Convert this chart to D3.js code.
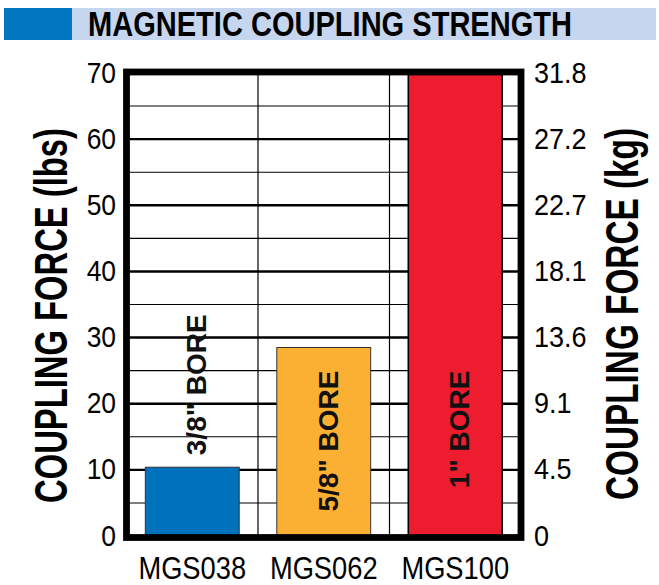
<!DOCTYPE html>
<html><head><meta charset="utf-8">
<script src="https://cdn.jsdelivr.net/npm/d3@7"></script>
<style>body{margin:0;background:#fff} svg{display:block}</style>
</head><body>
<svg id="c" width="659" height="585"></svg>
<script>
const categories = ["MGS038", "MGS062", "MGS100"];
const forceLbs = [10.4, 28.5, 70];
const boreLabels = ['3/8" BORE', '5/8" BORE', '1" BORE'];
const lbsTicks = [0, 10, 20, 30, 40, 50, 60, 70];
const minorTicks = [5, 15, 25, 35, 45, 55, 65];
const kgTickLabels = ["0", "4.5", "9.1", "13.6", "18.1", "22.7", "27.2", "31.8"];
const barColors = ["#0071bc", "#fbb034", "#ed1c2e"];

(function () {
const FONT = "'Liberation Sans', Arial, Helvetica, sans-serif";
const svg = d3.select("#c");

function condense(sel, f) {
  sel.each(function () {
    const w = this.getComputedTextLength();
    d3.select(this).attr("textLength", w * f).attr("lengthAdjust", "spacingAndGlyphs");
  });
}

// Title band
svg.append("rect").attr("x", 4).attr("y", 8).attr("width", 68).attr("height", 32).attr("fill", "#0077c0");
svg.append("rect").attr("x", 72).attr("y", 8).attr("width", 584).attr("height", 32).attr("fill", "#c6d6ee");
svg.append("text").attr("x", 88).attr("y", 36)
  .attr("font-family", FONT).attr("font-weight", "bold").attr("font-size", 35)
  .attr("textLength", 484).attr("lengthAdjust", "spacingAndGlyphs")
  .text("MAGNETIC COUPLING STRENGTH");

const pL = 126.5, pR = 521, pT = 73, pB = 536;
const y = d3.scaleLinear().domain([0, 70]).range([pB, pT]);
const x = d3.scaleBand().domain(categories).range([pL, pR]).paddingInner(0.286).paddingOuter(0.143);

// gridlines
const g = svg.append("g");
g.selectAll(".minor").data(minorTicks).join("line").attr("class", "minor")
  .attr("x1", pL).attr("x2", pR).attr("y1", d => y(d)).attr("y2", d => y(d))
  .attr("stroke", "#000").attr("stroke-width", 1.1);
g.selectAll(".major").data(lbsTicks.slice(1, -1)).join("line").attr("class", "major")
  .attr("x1", pL).attr("x2", pR).attr("y1", d => y(d)).attr("y2", d => y(d))
  .attr("stroke", "#000").attr("stroke-width", 2.4);
const step = x.step();
g.selectAll(".vg").data(categories.slice(1)).join("line").attr("class", "vg")
  .attr("x1", d => x(d) - step * x.paddingInner() / 2).attr("x2", d => x(d) - step * x.paddingInner() / 2)
  .attr("y1", pT).attr("y2", pB)
  .attr("stroke", "#000").attr("stroke-width", 1.2);

// bars
svg.selectAll(".bar").data(categories).join("rect").attr("class", "bar")
  .attr("x", d => x(d)).attr("width", x.bandwidth())
  .attr("y", (d, i) => y(forceLbs[i])).attr("height", (d, i) => y(0) - y(forceLbs[i]))
  .attr("fill", (d, i) => barColors[i])
  .attr("stroke", (d, i) => i === 2 ? "#000" : "#333").attr("stroke-width", (d, i) => i === 2 ? 1.6 : 1);

// bar labels
svg.selectAll(".bl").data(categories).join("text").attr("class", "bl")
  .attr("transform", (d, i) => {
    const cx = x(d) + x.bandwidth() / 2 + 14;
    const inside = forceLbs[i] > 20;
    const yy = inside ? y(25) : y(forceLbs[i]) - 12;
    return `translate(${cx},${yy}) rotate(-90)`;
  })
  .attr("text-anchor", (d, i) => forceLbs[i] > 20 ? "end" : "start")
  .attr("font-family", FONT).attr("font-weight", "bold").attr("font-size", 28)
  .attr("fill", "#111")
  .text((d, i) => boreLabels[i]);

// frame
svg.append("rect").attr("x", 126.5).attr("y", 72).attr("width", 394.5).attr("height", 465.5)
  .attr("fill", "none").attr("stroke", "#000").attr("stroke-width", 6.8);

// left axis
const la = svg.append("g").attr("transform", "translate(120,0)")
  .call(d3.axisLeft(y).tickValues(lbsTicks).tickSize(0).tickPadding(4).tickFormat(d3.format("d")));
la.select(".domain").remove();
la.selectAll("text").attr("font-family", FONT).attr("font-size", 30).attr("fill", "#000").attr("dy", "0.3em");
condense(la.selectAll("text"), 0.88);

// right axis
const ra = svg.append("g").attr("transform", "translate(530,0)")
  .call(d3.axisRight(y).tickValues(lbsTicks).tickSize(0).tickPadding(4).tickFormat((d, i) => kgTickLabels[i]));
ra.select(".domain").remove();
ra.selectAll("text").attr("font-family", FONT).attr("font-size", 30).attr("fill", "#000").attr("dy", "0.3em");
condense(ra.selectAll("text"), 0.9);

// x axis labels
const xa = svg.append("g").attr("transform", "translate(0,579)")
  .call(d3.axisBottom(x).tickSize(0).tickPadding(0));
xa.select(".domain").remove();
xa.selectAll("text").attr("font-family", FONT).attr("font-size", 31).attr("fill", "#000").attr("dy", 0);
condense(xa.selectAll("text"), 0.88);

// axis titles
svg.append("text").attr("transform", "translate(67,315.5) rotate(-90)")
  .attr("text-anchor", "middle").attr("font-family", FONT).attr("font-weight", "bold").attr("font-size", 46)
  .attr("textLength", 375).attr("lengthAdjust", "spacingAndGlyphs")
  .text("COUPLING FORCE (lbs)");
svg.append("text").attr("transform", "translate(638,314) rotate(-90)")
  .attr("text-anchor", "middle").attr("font-family", FONT).attr("font-weight", "bold").attr("font-size", 46)
  .attr("textLength", 372).attr("lengthAdjust", "spacingAndGlyphs")
  .text("COUPLING FORCE (kg)");
})();
</script>
</body></html>
